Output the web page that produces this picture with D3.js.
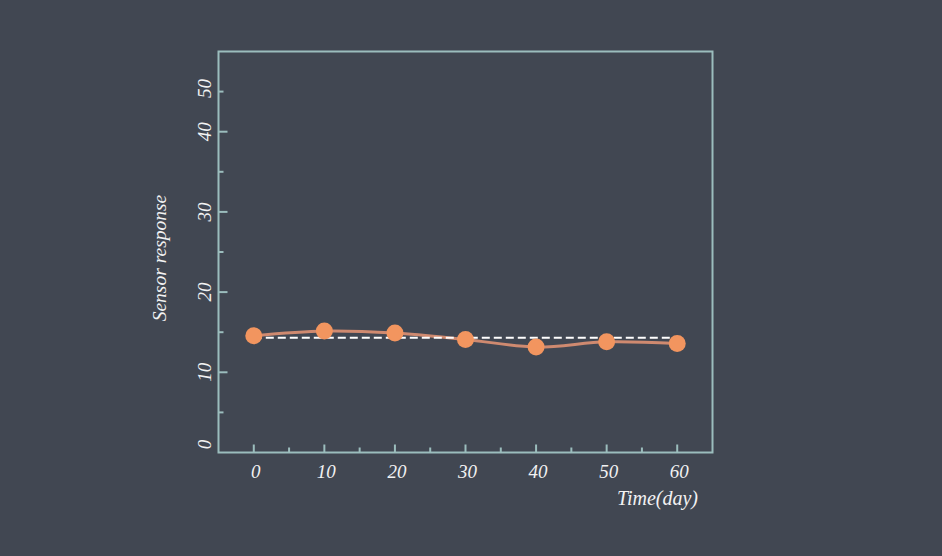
<!DOCTYPE html>
<html>
<head>
<meta charset="utf-8">
<script src="https://cdn.jsdelivr.net/npm/d3@7/dist/d3.min.js"></script>
<style>
html,body{margin:0;padding:0;background:#414752;}
svg{display:block;}
text{font-family:"Liberation Serif","DejaVu Serif",serif;font-style:italic;fill:#f2f2f2;}
</style>
</head>
<body>
<svg id="chart" width="942" height="556"></svg>
<script>
const days = [0, 10, 20, 30, 40, 50, 60];
const response = [14.55, 15.15, 14.9, 14.1, 13.15, 13.8, 13.6];
const meanLevel = [14.3];
const xTickValues = [0, 10, 20, 30, 40, 50, 60];
const xMinorTicks = [5, 15, 25, 35, 45, 55];
const yTickValues = [0, 10, 20, 30, 40, 50];
const yMinorTicks = [5, 15, 25, 35, 45];

const svg = d3.select("#chart");
const W = 942, H = 556;
svg.append("rect").attr("width", W).attr("height", H).attr("fill", "#414752");

const L = 218.5, R = 712.5, T = 51.5, B = 452.5;
const x = d3.scaleLinear().domain([-5, 65]).range([L, R]);
const y = d3.scaleLinear().domain([0, 50]).range([B, T]);
const frameColor = "#9bbdbd";

// frame
svg.append("rect").attr("x", L).attr("y", T).attr("width", R - L).attr("height", B - T)
  .attr("fill", "none").attr("stroke", frameColor).attr("stroke-width", 2);

// x ticks (inward)
const gx = svg.append("g");
gx.selectAll("line.maj").data(xTickValues).join("line")
  .attr("x1", d => x(d)).attr("x2", d => x(d)).attr("y1", B).attr("y2", B - 8)
  .attr("stroke", frameColor).attr("stroke-width", 2);
gx.selectAll("line.min").data(xMinorTicks).join("line")
  .attr("x1", d => x(d)).attr("x2", d => x(d)).attr("y1", B).attr("y2", B - 5)
  .attr("stroke", frameColor).attr("stroke-width", 2);
gx.selectAll("text").data(xTickValues).join("text")
  .attr("x", d => x(d) + 2).attr("y", 478)
  .attr("text-anchor", "middle").attr("font-size", 19)
  .text(d => d);

// y ticks (inward)
const gy = svg.append("g");
gy.selectAll("line.maj").data(yTickValues.filter(d => d > 0 && d < 50)).join("line")
  .attr("x1", L).attr("x2", L + 9).attr("y1", d => y(d)).attr("y2", d => y(d))
  .attr("stroke", frameColor).attr("stroke-width", 2);
gy.selectAll("line.min").data(yMinorTicks).join("line")
  .attr("x1", L).attr("x2", L + 5).attr("y1", d => y(d)).attr("y2", d => y(d))
  .attr("stroke", frameColor).attr("stroke-width", 2);
gy.selectAll("text").data(yTickValues).join("text")
  .attr("transform", d => {
    const yy = Math.min(Math.max(y(d), y(45) - 3), y(0) - 8);
    return `translate(211,${yy}) rotate(-90)`;
  })
  .attr("text-anchor", "middle").attr("font-size", 19)
  .text(d => d);

// axis titles
svg.append("text").attr("transform", "translate(166,258) rotate(-90)")
  .attr("text-anchor", "middle").attr("font-size", 19.5).text("Sensor response");
svg.append("text").attr("x", 698).attr("y", 505)
  .attr("text-anchor", "end").attr("font-size", 20).text("Time(day)");

// data
const pts = days.map((d, i) => ({ d, v: response[i] }));
const line = d3.line().x(p => x(p.d)).y(p => y(p.v)).curve(d3.curveCatmullRom.alpha(0.5));
svg.append("path").datum(pts).attr("d", line)
  .attr("fill", "none").attr("stroke", "#cf8a70").attr("stroke-width", 3);

svg.append("line")
  .attr("x1", x(days[0])).attr("x2", x(days[days.length - 1]))
  .attr("y1", y(meanLevel[0])).attr("y2", y(meanLevel[0]))
  .attr("stroke", "#ffffff").attr("stroke-width", 2).attr("stroke-dasharray", "8,4");

svg.selectAll("circle").data(pts).join("circle")
  .attr("cx", p => x(p.d)).attr("cy", p => y(p.v)).attr("r", 8.5)
  .attr("fill", "#f2955f");
</script>
</body>
</html>
